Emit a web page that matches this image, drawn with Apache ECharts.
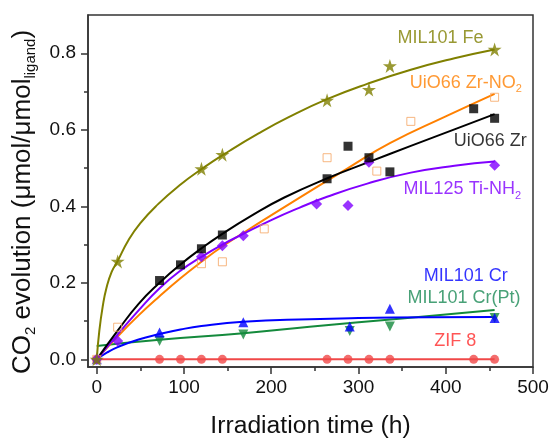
<!DOCTYPE html>
<html><head><meta charset="utf-8">
<script src="https://cdn.jsdelivr.net/npm/echarts@6/dist/echarts.min.js"></script>
<style>html,body{margin:0;padding:0;background:#fff}#c{width:552px;height:444px}</style>
</head><body><div id="c"></div>
<script>
// ---- axis ticks ----
const xTicks = [0, 100, 200, 300, 400, 500];
const xMinorTicks = [50, 150, 250, 350, 450];
const yTicks = [0, 0.2, 0.4, 0.6, 0.8];
const yMinorTicks = [0.1, 0.3, 0.5, 0.7];

const feData = [[0,0],[24,0.256],[120,0.498],[144,0.535],[264,0.677],[312,0.705],[336,0.767],[456,0.810]];
const feFit = [[0,0],[3,0.075],[7,0.14],[11,0.185],[17,0.228],[24,0.257],[36,0.31],[50,0.356],[70,0.405],[95,0.455],[120,0.497],[150,0.542],[185,0.59],[220,0.633],[264,0.680],[310,0.720],[360,0.757],[410,0.787],[456,0.810]];

const no2Data = [[0,0],[24,0.084],[120,0.25],[144,0.255],[192,0.341],[264,0.527],[321,0.492],[360,0.622],[456,0.685]];
const no2Fit = [[0,0],[24,0.060],[48,0.115],[72,0.165],[96,0.212],[120,0.255],[144,0.295],[192,0.365],[240,0.433],[288,0.500],[336,0.565],[400,0.635],[456,0.694]];

const zrData = [[72,0.206],[96,0.247],[120,0.289],[144,0.325],[264,0.472],[288,0.557],[312,0.527],[336,0.490],[432,0.655],[456,0.630]];
const zrFit = [[0,0],[24,0.075],[48,0.145],[72,0.200],[96,0.248],[120,0.290],[144,0.328],[177,0.375],[215,0.423],[265,0.474],[310,0.514],[360,0.558],[410,0.601],[456,0.641]];

const tiData = [[0,0],[24,0.048],[120,0.268],[144,0.297],[168,0.323],[252,0.406],[288,0.402],[312,0.515],[456,0.507]];
const tiFit = [[0,0],[24,0.065],[48,0.128],[72,0.186],[96,0.232],[120,0.268],[144,0.300],[168,0.328],[200,0.364],[232,0.396],[264,0.425],[311,0.460],[360,0.488],[410,0.506],[456,0.517]];

const crData = [[0,0],[72,0.070],[168,0.097],[290,0.086],[336,0.132],[456,0.108]];
const crFit = [[0,0],[12,0.018],[24,0.032],[48,0.052],[72,0.066],[96,0.078],[120,0.087],[168,0.098],[244,0.105],[300,0.108],[380,0.110],[456,0.111]];

const ptData = [[72,0.048],[168,0.065],[290,0.074],[336,0.086],[456,0.108]];
const ptFit = [[0,0.035],[72,0.051],[168,0.068],[244,0.085],[350,0.107],[456,0.129]];

const zifData = [[0,0],[72,0],[96,0],[120,0],[144,0],[264,0],[288,0],[312,0],[336,0],[432,0],[456,0]];
const zifFit = [[0,0],[456,0]];

// ---- annotation anchors (data coordinates) ----
const labelTexts = ['{a|MIL101 Fe}', '{a|UiO66 Zr-NO}{s|2}', '{a|UiO66 Zr}', '{a|MIL125 Ti-NH}{s|2}', '{a|MIL101 Cr}', '{a|MIL101 Cr(Pt)}', '{a|ZIF 8}'];
const labelAnchors = [[394,0.839],[423,0.722],[451,0.570],[419,0.444],[423,0.219],[421,0.160],[411,0.048]];

const C = {
  fe: '#808000', no2: '#ff8000', no2m: '#f5a562', zr: '#000000', ti: '#8000ff',
  cr: '#0000ff', pt: '#148a3c', ptText: '#1a8a55', zif: '#f04848', zifText: '#ff2a2a'
};
const labelColors = [C.fe, C.no2, C.zr, C.ti, C.cr, C.ptText, C.zifText];

const star = 'path://M50,0 L61.2,34.5 L97.6,34.5 L68.2,55.9 L79.4,90.5 L50,69.1 L20.6,90.5 L31.8,55.9 L2.4,34.5 L38.8,34.5 Z';
const font = 'Liberation Sans, Arial, sans-serif';

function fit(data, color) {
  return {type: 'line', data: data, smooth: true, showSymbol: false, silent: true,
    lineStyle: {color: color, width: 2}, z: 3};
}
function pts(data, symbol, size, color, extra) {
  return Object.assign({type: 'scatter', data: data, symbol: symbol, symbolSize: size, silent: true,
    itemStyle: {color: color}, z: 4}, extra || {});
}

const series = [
  fit(zifFit, C.zif), pts(zifData, 'circle', 9, C.zif),
  fit(ptFit, C.pt), pts(ptData, 'triangle', 10, C.pt, {symbolRotate: 180}),
  fit(crFit, C.cr), pts(crData, 'triangle', 10, C.cr),
  fit(no2Fit, C.no2), pts(no2Data, 'rect', 8, '#ffffff', {itemStyle: {color: 'rgba(255,255,255,0)', borderColor: C.no2m, borderWidth: 1}}),
  fit(tiFit, C.ti), pts(tiData, 'diamond', 11, C.ti),
  fit(zrFit, C.zr), pts(zrData, 'rect', 9, C.zr),
  fit(feFit, C.fe), pts(feData, star, 14, C.fe)
];

labelTexts.forEach((t, i) => {
  series.push({
    type: 'scatter', data: [labelAnchors[i]], symbolSize: 0, silent: true, z: 6,
    label: {show: true, position: 'inside', formatter: t,
      rich: {
        a: {fontFamily: font, fontSize: 18, color: labelColors[i]},
        s: {fontFamily: font, fontSize: 11, color: labelColors[i], padding: [12, 0, 0, 0]}
      }}
  });
});

const axisCol = '#333';
const option = {
  backgroundColor: '#fff',
  animation: false,
  grid: {left: 88, right: 19, top: 15, bottom: 71, show: true, borderColor: axisCol, borderWidth: 1.5, backgroundColor: 'transparent'},
  xAxis: [{
    type: 'value', min: -10, max: 500, position: 'bottom',
    name: 'Irradiation time (h)', nameLocation: 'middle', nameGap: 47,
    nameTextStyle: {fontFamily: font, fontSize: 24.7, color: '#111'},
    axisLine: {show: true, onZero: false, lineStyle: {color: axisCol, width: 1.5}},
    axisTick: {show: true, inside: false, length: 7, customValues: xTicks, lineStyle: {color: axisCol, width: 1.5}},
    axisLabel: {show: true, margin: 11, customValues: xTicks, fontFamily: font, fontSize: 19, color: '#111'},
    splitLine: {show: false}
  }, {
    type: 'value', min: -10, max: 500, position: 'bottom', gridIndex: 0,
    axisLine: {show: false, onZero: false}, axisLabel: {show: false}, splitLine: {show: false},
    axisTick: {show: true, inside: false, length: 4, customValues: xMinorTicks, lineStyle: {color: axisCol, width: 1.5}}
  }],
  yAxis: [{
    type: 'value', min: -0.02, max: 0.9, position: 'left',
    name: '{a|CO}{s|2}{a| evolution (μmol/μmol}{s|ligand}{a|)}',
    nameLocation: 'middle', nameRotate: 90, nameGap: 50,
    nameTextStyle: {fontFamily: font, fontSize: 26, color: '#111', padding: [0, 22, 0, 0],
      rich: {a: {fontFamily: font, fontSize: 26, color: '#111'},
             s: {fontFamily: font, fontSize: 15, color: '#111', padding: [15, 0, 0, 0]}}},
    axisLine: {show: true, onZero: false, lineStyle: {color: axisCol, width: 1.5}},
    axisTick: {show: true, inside: false, length: 7, customValues: yTicks, lineStyle: {color: axisCol, width: 1.5}},
    axisLabel: {show: true, margin: 12, customValues: yTicks, fontFamily: font, fontSize: 19, color: '#111',
      formatter: v => v.toFixed(1)},
    splitLine: {show: false}
  }, {
    type: 'value', min: -0.02, max: 0.9, position: 'left', gridIndex: 0,
    axisLine: {show: false, onZero: false}, axisLabel: {show: false}, splitLine: {show: false},
    axisTick: {show: true, inside: false, length: 4, customValues: yMinorTicks, lineStyle: {color: axisCol, width: 1.5}}
  }],
  series: series
};
const chart = echarts.init(document.getElementById('c'), null, {renderer: 'canvas'});
chart.setOption(option);
</script></body></html>
